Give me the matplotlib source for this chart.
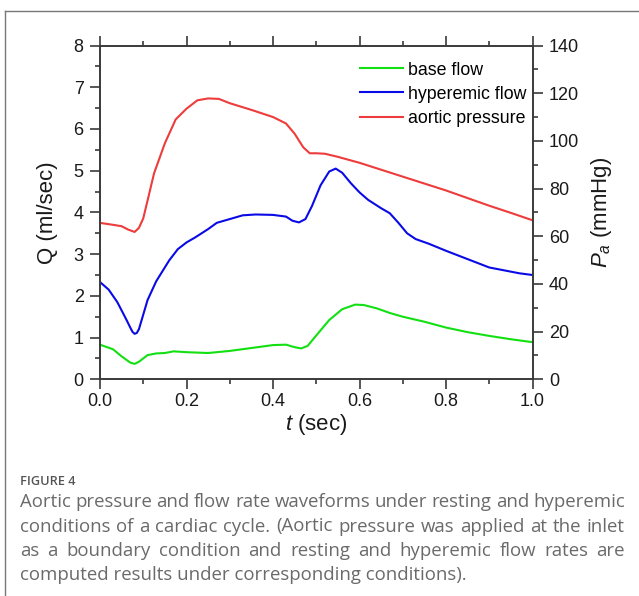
import matplotlib as mpl
mpl.use('Agg')

import matplotlib.pyplot as plt
from matplotlib.lines import Line2D
from matplotlib.ticker import MultipleLocator

# Values
t_base = [0, 0.03, 0.05, 0.07, 0.08, 0.09, 0.11, 0.13, 0.15, 0.17, 0.2, 0.25, 0.3, 0.35, 0.4, 0.43,
          0.45, 0.465, 0.48, 0.5, 0.53, 0.56, 0.59, 0.61, 0.64, 0.67, 0.7, 0.75, 0.8, 0.85, 0.9, 0.95, 1.0]
q_base = [0.83, 0.72, 0.55, 0.40, 0.37, 0.42, 0.58, 0.62, 0.63, 0.67, 0.65, 0.63, 0.68, 0.75, 0.82, 0.83,
          0.77, 0.74, 0.80, 1.05, 1.42, 1.68, 1.79, 1.78, 1.70, 1.59, 1.50, 1.38, 1.24, 1.13, 1.04, 0.96, 0.89]

t_hyper = [0, 0.02, 0.04, 0.06, 0.07, 0.075, 0.08, 0.085, 0.09, 0.1, 0.11, 0.13, 0.16, 0.18, 0.2, 0.22,
           0.25, 0.27, 0.3, 0.33, 0.36, 0.4, 0.43, 0.445, 0.46, 0.475, 0.49, 0.51, 0.53, 0.545, 0.56,
           0.58, 0.6, 0.62, 0.65, 0.67, 0.69, 0.71, 0.73, 0.76, 0.8, 0.85, 0.9, 0.94, 0.97, 1.0]
q_hyper = [2.33, 2.15, 1.85, 1.45, 1.24, 1.14, 1.09, 1.11, 1.20, 1.55, 1.90, 2.35, 2.85, 3.12, 3.28, 3.40,
           3.60, 3.75, 3.84, 3.93, 3.95, 3.94, 3.90, 3.80, 3.76, 3.84, 4.15, 4.65, 4.98, 5.05, 4.95,
           4.70, 4.48, 4.30, 4.10, 3.98, 3.75, 3.50, 3.36, 3.25, 3.08, 2.88, 2.68, 2.60, 2.54, 2.50]

t_aortic = [0, 0.03, 0.05, 0.065, 0.08, 0.09, 0.1, 0.11, 0.125, 0.15, 0.175, 0.2, 0.225, 0.25, 0.275,
            0.3, 0.35, 0.4, 0.43, 0.45, 0.47, 0.485, 0.5, 0.52, 0.55, 0.6, 0.65, 0.7, 0.75, 0.8,
            0.85, 0.9, 0.95, 1.0]
p_aortic = [65.6, 64.8, 64.2, 62.8, 61.8, 63.5, 67.5, 75.0, 86.4, 99.0, 109.0, 113.5, 117.0, 117.8, 117.6,
            115.8, 113.0, 110.0, 107.3, 103.0, 97.3, 94.8, 94.8, 94.6, 93.3, 90.8, 87.9, 85.0, 82.1, 79.2,
            76.0, 72.8, 69.8, 66.7]

caption_lines = [
    "Aortic pressure and flow rate waveforms under resting and hyperemic",
    "conditions of a cardiac cycle. (Aortic pressure was applied at the inlet",
    "as a boundary condition and resting and hyperemic flow rates are",
    "computed results under corresponding conditions).",
]

W, H = 639, 596
plt.rcParams['font.family'] = ['Liberation Sans', 'DejaVu Sans']
plt.rcParams['mathtext.fontset'] = 'custom'
plt.rcParams['mathtext.it'] = 'Liberation Sans:italic'
plt.rcParams['mathtext.rm'] = 'Liberation Sans'

axis_color = '#3a3a3a'
green, blue, red = '#12e012', '#0a0ae6', '#ee3b3b'

fig = plt.figure(figsize=(W / 100, H / 100), dpi=100)
ax = fig.add_axes([100 / W, 1 - 379.3 / H, 432.5 / W, 333.8 / H])
ax2 = ax.twinx()

l1, = ax.plot(t_base, q_base, color=green, lw=1.5)
l2, = ax.plot(t_hyper, q_hyper, color=blue, lw=1.5)
l3, = ax2.plot(t_aortic, p_aortic, color=red, lw=1.5)

ax.set_xlim(0, 1)
ax.set_ylim(0, 8)
ax2.set_ylim(0, 140)

ax.xaxis.set_major_locator(MultipleLocator(0.2))
ax.xaxis.set_minor_locator(MultipleLocator(0.1))
ax.yaxis.set_major_locator(MultipleLocator(1))
ax.yaxis.set_minor_locator(MultipleLocator(0.5))
ax2.yaxis.set_major_locator(MultipleLocator(20))
ax2.yaxis.set_minor_locator(MultipleLocator(10))
ax.xaxis.set_major_formatter(mpl.ticker.FormatStrFormatter('%.1f'))

for a in (ax, ax2):
    for s in a.spines.values():
        s.set_color(axis_color)
        s.set_linewidth(1.2)

ax.tick_params(which='both', direction='out', top=True, right=False, color=axis_color,
               width=1.2, labelsize=13, labelcolor='#1a1a1a', pad=4.5)
ax.tick_params(which='major', length=7.2)
ax.tick_params(which='minor', length=3.6)
ax.tick_params(axis='x', pad=3)
ax2.tick_params(which='both', direction='out', color=axis_color, width=1.2,
                labelsize=13, labelcolor='#1a1a1a', pad=4.5)
ax2.tick_params(which='major', length=7.2)
ax2.tick_params(which='minor', length=3.6)

ax.set_ylabel('Q (ml/sec)', fontsize=16, color='#1a1a1a')
ax.yaxis.set_label_coords(-0.097, 0.5)
ax2.set_ylabel(r'$P_a$ (mmHg)', fontsize=16, color='#1a1a1a')
ax2.yaxis.set_label_coords(1.131, 0.5)
ax.set_xlabel(r'$t$ (sec)', fontsize=16, color='#1a1a1a')
ax.xaxis.set_label_coords(0.5, -0.098)

ax2.legend([l1, l2, l3], ['base flow', 'hyperemic flow', 'aortic pressure'],
           loc='upper right', bbox_to_anchor=(0.985, 0.952), frameon=False,
           fontsize=12.8, handlelength=2.4, handletextpad=0.28, labelspacing=0.4,
           borderpad=0, borderaxespad=0)

# outer frame (left and top edges only)
fig.add_artist(Line2D([4.5 / W, 4.5 / W], [0, 1 - 10.5 / H], color='#777777', lw=1))
fig.add_artist(Line2D([4.5 / W, 1], [1 - 10.5 / H, 1 - 10.5 / H], color='#777777', lw=1))

# caption, justified word by word
cap_font = dict(family=['Open Sans', 'DejaVu Sans'], fontsize=13.4, color='#6a6a6a')
fig.text(20 / W, 1 - 485 / H, 'FIGURE 4', family=['Open Sans', 'DejaVu Sans'],
         fontsize=9.2, color='#555555', fontweight='semibold', va='baseline')

r = fig.canvas.get_renderer()
x0, x1 = 20, 625
baselines = [507, 531.5, 556, 580.5]
for i, (line, yb) in enumerate(zip(caption_lines, baselines)):
    if i == len(caption_lines) - 1:
        fig.text(x0 / W, 1 - yb / H, line, va='baseline', **cap_font)
        continue
    words = line.split()
    texts = [fig.text(0, 1 - yb / H, w, va='baseline', **cap_font) for w in words]
    widths = [t.get_window_extent(r).width for t in texts]
    gap = (x1 - x0 - sum(widths)) / (len(words) - 1)
    x = x0
    for t, w in zip(texts, widths):
        t.set_x(x / W)
        x += w + gap

plt.savefig('out.png', dpi=100)
